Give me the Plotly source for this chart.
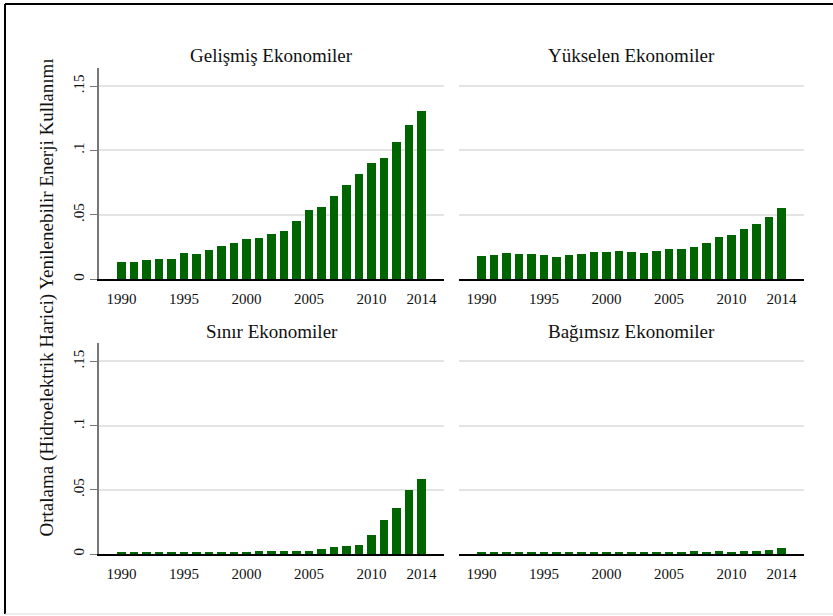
import plotly.graph_objects as go

W, H = 833, 616

years = list(range(1990, 2015))

gelismis = [0.0135, 0.0135, 0.0150, 0.0158, 0.0158, 0.0202, 0.0197, 0.0228, 0.0259, 0.0280,
            0.0313, 0.0319, 0.0352, 0.0373, 0.0453, 0.0541, 0.0565, 0.0648, 0.0731, 0.0819,
            0.0904, 0.0943, 0.1065, 0.1197, 0.1303]
yukselen = [0.0181, 0.0189, 0.0205, 0.0197, 0.0197, 0.0189, 0.0176, 0.0187, 0.0197, 0.0212,
            0.0212, 0.0220, 0.0212, 0.0205, 0.0220, 0.0233, 0.0236, 0.0254, 0.0285, 0.0332,
            0.0345, 0.0389, 0.0430, 0.0482, 0.0552]
sinir = [0.0008, 0.0008, 0.0008, 0.0008, 0.0008, 0.0008, 0.0008, 0.0009, 0.0013, 0.0015,
         0.0015, 0.0018, 0.0023, 0.0023, 0.0018, 0.0018, 0.0036, 0.0052, 0.0060, 0.0067,
         0.0148, 0.0264, 0.0358, 0.0497, 0.0583]
bagimsiz = [0.0008, 0.0008, 0.0008, 0.0008, 0.0008, 0.0008, 0.0008, 0.0008, 0.0008, 0.0008,
            0.0008, 0.0008, 0.0008, 0.0008, 0.0008, 0.0013, 0.0015, 0.0021, 0.0015, 0.0021,
            0.0015, 0.0021, 0.0023, 0.0031, 0.0047]

panel_titles = ["Gelişmiş Ekonomiler", "Yükselen Ekonomiler", "Sınır Ekonomiler", "Bağımsız Ekonomiler"]
series = [gelismis, yukselen, sinir, bagimsiz]

x_ticks = [1990, 1995, 2000, 2005, 2010, 2014]
y_ticks = [0, 0.05, 0.1, 0.15]
y_ticktext = ["0", ".05", ".1", ".15"]
y_title = "Ortalama (Hidroelektrik Harici) Yenilenebilir Enerji Kullanımı"

FONT = "Liberation Serif"
BAR = "#006400"
GRID = "#e4e4e4"

def px_x(p):
    return p / W

def px_y(p):
    return 1 - p / H

x_domains = [[px_x(99), px_x(444)], [px_x(459), px_x(804)]]
y_domains = [[px_y(279.3), px_y(68)], [px_y(554), px_y(343.3)]]

fig = go.Figure()
layout = {}
for i, (vals, title) in enumerate(zip(series, panel_titles)):
    r, c = divmod(i, 2)
    n = i + 1
    xa = "x" if n == 1 else f"x{n}"
    ya = "y" if n == 1 else f"y{n}"
    fig.add_trace(go.Bar(x=years, y=vals, xaxis=xa, yaxis=ya, width=0.66,
                         marker=dict(color=BAR, line=dict(width=0)), showlegend=False))
    xkey = "xaxis" if n == 1 else f"xaxis{n}"
    ykey = "yaxis" if n == 1 else f"yaxis{n}"
    layout[xkey] = dict(domain=x_domains[c], anchor=ya, range=[1988.2, 2015.8],
                        tickvals=x_ticks, ticktext=[str(v) for v in x_ticks],
                        ticks="", ticklabelstandoff=5, showgrid=False, zeroline=False,
                        showline=True, linecolor="black", linewidth=1.5,
                        tickfont=dict(family=FONT, size=15, color="#111"), automargin=False)
    left = (c == 0)
    layout[ykey] = dict(domain=y_domains[r], anchor=xa, range=[0, 0.164],
                        tickvals=y_ticks, ticktext=y_ticktext, tickangle=-90,
                        showticklabels=left, ticks="outside" if left else "",
                        ticklen=7, tickcolor="#777", tickwidth=1.2,
                        showline=left, linecolor="#777", linewidth=1.5,
                        showgrid=True, gridcolor=GRID, gridwidth=1.5, zeroline=False,
                        tickfont=dict(family=FONT, size=15, color="#111"), automargin=False)

annotations = []
title_pos = [(271.5, 55), (631.5, 55), (271.5, 331), (631.5, 331)]
for (tx, ty), t in zip(title_pos, panel_titles):
    annotations.append(dict(text=t, x=px_x(tx), y=px_y(ty), xref="paper", yref="paper",
                            showarrow=False, xanchor="center", yanchor="middle",
                            font=dict(family=FONT, size=19, color="#111")))
annotations.append(dict(text=y_title, x=px_x(46), y=px_y(297.5), xref="paper", yref="paper",
                        showarrow=False, textangle=-90, xanchor="center", yanchor="middle",
                        font=dict(family=FONT, size=19, color="#111")))

shapes = [
    dict(type="line", xref="paper", yref="paper", x0=px_x(5), x1=1.0, y0=px_y(4), y1=px_y(4),
         line=dict(color="black", width=2)),
    dict(type="line", xref="paper", yref="paper", x0=px_x(5), x1=px_x(5), y0=px_y(4), y1=px_y(614),
         line=dict(color="black", width=2)),
    dict(type="line", xref="paper", yref="paper", x0=px_x(5), x1=1.0, y0=px_y(614), y1=px_y(614),
         line=dict(color="#d9d9d9", width=1)),
]

fig.update_layout(width=W, height=H, margin=dict(l=0, r=0, t=0, b=0),
                  paper_bgcolor="white", plot_bgcolor="white", bargap=0,
                  annotations=annotations, shapes=shapes, **layout)

fig.write_html("out.html")
